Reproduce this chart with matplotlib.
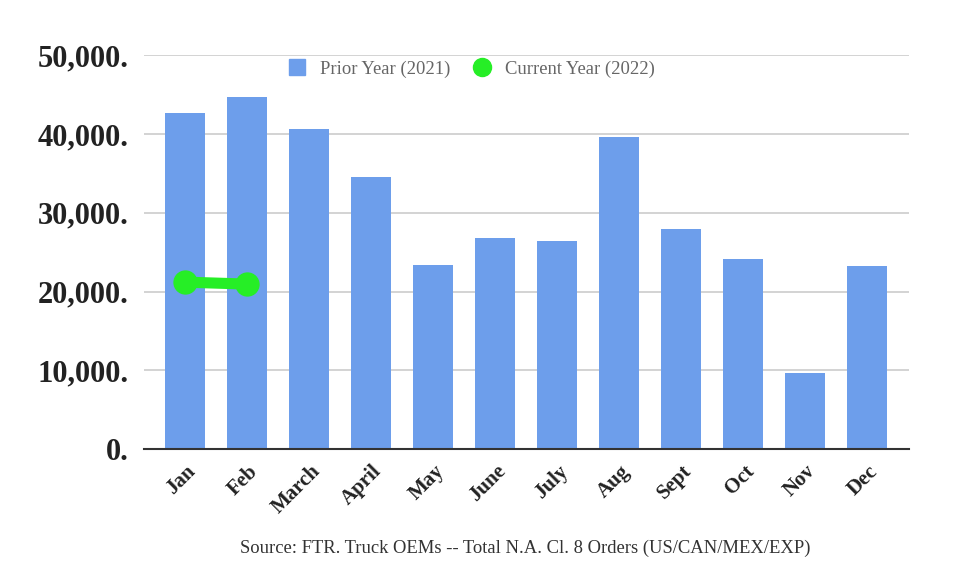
import matplotlib
matplotlib.use("Agg")
import matplotlib.pyplot as plt
import matplotlib.transforms as mtransforms
from matplotlib.lines import Line2D
from matplotlib.ticker import FuncFormatter

# data
months = ["Jan", "Feb", "March", "April", "May", "June", "July",
          "Aug", "Sept", "Oct", "Nov", "Dec"]
prior_2021 = [42700, 44700, 40600, 34600, 23400, 26800, 26400,
              39600, 27900, 24200, 9600, 23200]
current_2022 = [21200, 20950]

blue = "#6d9eeb"
green = "#26ee26"

plt.rcParams["font.family"] = ["Liberation Serif", "DejaVu Serif"]

fig = plt.figure(figsize=(9.6, 5.83), dpi=100)
ax = fig.add_axes([0.15, 0.2298, 0.797, 0.6752])

x = list(range(len(months)))
ax.bar(x, prior_2021, width=0.645, color=blue, zorder=2)
ax.plot(x[:len(current_2022)], current_2022, color=green, lw=8,
        marker="o", markersize=16.5, zorder=3, solid_capstyle="round")

# axes
ax.set_xlim(-0.66, 11.68)
ax.set_ylim(0, 50000)
ax.set_yticks([0, 10000, 20000, 30000, 40000, 50000])
ax.yaxis.set_major_formatter(FuncFormatter(lambda v, p: f"{int(v):,}."))
ax.grid(axis="y", color="#cccccc", lw=1.2, zorder=0)
for s in ["top", "right", "left"]:
    ax.spines[s].set_visible(False)
ax.spines["bottom"].set_color("#333333")
ax.spines["bottom"].set_linewidth(1.5)
ax.spines["bottom"].set_zorder(4)
ax.tick_params(axis="y", length=0, pad=11, labelsize=22, labelcolor="#222222")
ax.tick_params(axis="x", length=0, pad=6)
for lab in ax.get_yticklabels():
    lab.set_fontweight("bold")

ax.set_xticks(x)
ax.set_xticklabels(months, rotation=45, ha="right", va="center",
                   rotation_mode="anchor", fontsize=15, fontweight="bold",
                   color="#222222")
offset = mtransforms.ScaledTranslation(8 / 100, -11 / 100, fig.dpi_scale_trans)
for lab in ax.get_xticklabels():
    lab.set_transform(lab.get_transform() + offset)

# legend
handles = [
    Line2D([], [], ls="none", marker="s", markersize=12, color=blue),
    Line2D([], [], ls="none", marker="o", markersize=13, color=green),
]
ax.legend(handles, ["Prior Year (2021)", "Current Year (2022)"], ncol=2,
          loc="center", bbox_to_anchor=(0.428, 0.965), frameon=False,
          fontsize=13.4, labelcolor="#666666", handletextpad=0.75,
          columnspacing=1.2, handlelength=1.0)

fig.text(0.547, 0.06, "Source: FTR. Truck OEMs -- Total N.A. Cl. 8 Orders (US/CAN/MEX/EXP)",
         ha="center", va="center", fontsize=13.4, color="#333333")

fig.savefig("out.png", dpi=100)
